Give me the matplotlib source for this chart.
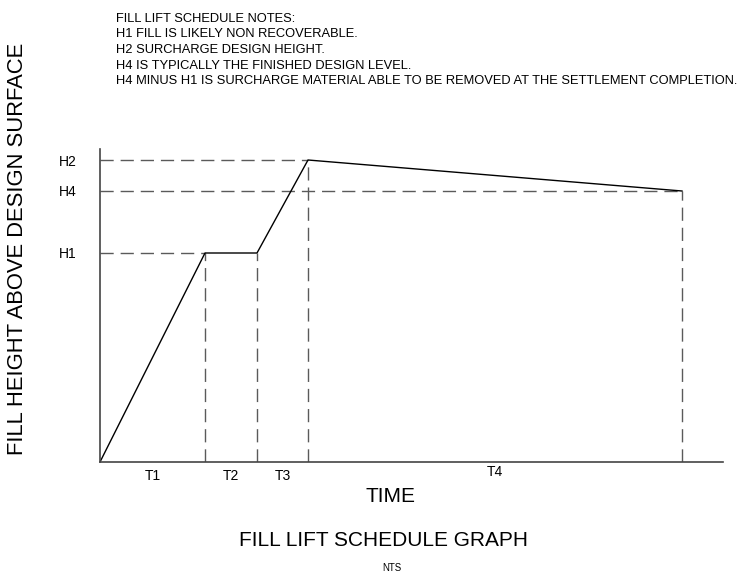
import numpy as np
import matplotlib.pyplot as plt

plt.rcParams['font.family'] = ['Liberation Sans', 'DejaVu Sans']

# schedule break points (time, fill height)
times = [0, 105, 157, 208, 582]
heights = [0, 209, 209, 302, 271]
level_names = ['H1', 'H2', 'H4']
level_values = [209, 302, 271]
period_names = ['T1', 'T2', 'T3', 'T4']
notes = [
    "FILL LIFT SCHEDULE NOTES:",
    "H1 FILL IS LIKELY NON RECOVERABLE.",
    "H2 SURCHARGE DESIGN HEIGHT.",
    "H4 IS TYPICALLY THE FINISHED DESIGN LEVEL.",
    "H4 MINUS H1 IS SURCHARGE MATERIAL ABLE TO BE REMOVED AT THE SETTLEMENT COMPLETION.",
]

W, H = 748, 585
fig = plt.figure(figsize=(W / 100, H / 100), dpi=100)
ax = fig.add_axes([100 / W, 123 / H, 623 / W, 313 / H])
ax.set_xlim(0, 623)
ax.set_ylim(0, 313)

dash = dict(color='#5a5a5a', lw=1.0, dashes=(9.5, 5))
# horizontal guides from the axis to the point where each level is reached
for name, lvl in zip(level_names, level_values):
    t_at = times[heights.index(lvl)]
    ax.plot([0, t_at], [lvl, lvl], **dash)
# vertical guides at each break point
for t, h in zip(times[1:], heights[1:]):
    ax.plot([t, t], [0, h], **dash)

ax.plot(times, heights, color='black', lw=1.0)

for s in ['top', 'right']:
    ax.spines[s].set_visible(False)
for s in ['left', 'bottom']:
    ax.spines[s].set_color('#444444')
    ax.spines[s].set_linewidth(1.2)

ax.set_xticks([])
ax.set_yticks(level_values)
ax.set_yticklabels(level_names, fontsize=10)
ax.tick_params(axis='y', length=0, pad=17)

# period labels centred under each interval (T4 sits a little higher)
for i, name in enumerate(period_names):
    mid = (times[i] + times[i + 1]) / 2
    ax.text(mid, -14 if i < 3 else -10, name, ha='center', va='center', fontsize=10)

for i, line in enumerate(notes):
    fig.text(116 / W, 1 - (21.5 + i * 15.75) / H, line, ha='left', va='baseline', fontsize=9.3)

fig.text(390 / W, 1 - 497 / H, "TIME", ha='center', va='center', fontsize=15)
fig.text(383 / W, 1 - 540 / H, "FILL LIFT SCHEDULE GRAPH", ha='center', va='center', fontsize=15)
fig.text(392 / W, 1 - 568 / H, "NTS", ha='center', va='center', fontsize=7)
fig.text(18 / W, 1 - 249 / H, "FILL HEIGHT ABOVE DESIGN SURFACE", ha='center', va='center',
         rotation=90, fontsize=15.8)

fig.savefig('out.png', dpi=100)
